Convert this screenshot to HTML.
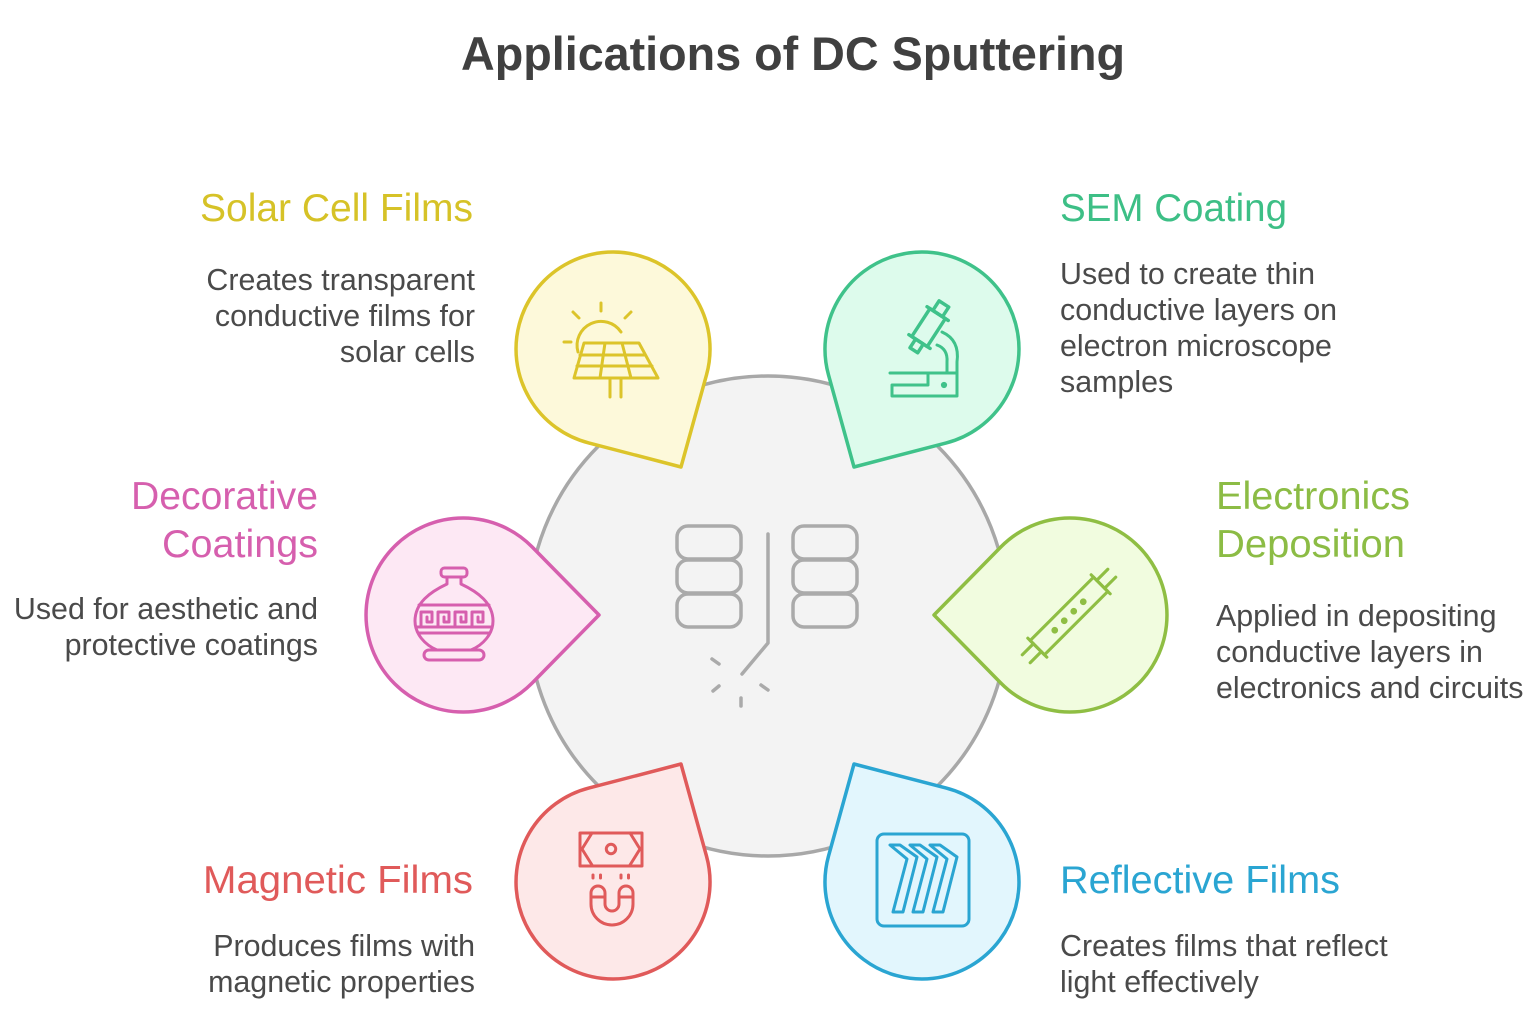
<!DOCTYPE html>
<html>
<head>
<meta charset="utf-8">
<style>
  html,body{margin:0;padding:0;background:#ffffff;}
  svg{display:block;}
  text{font-family:"Liberation Sans", Arial, sans-serif;}
  .lbl{font-size:39px;}
  .body{font-size:30.4px;fill:#4a4a4a;}
</style>
</head>
<body>
<svg width="1534" height="1014" viewBox="0 0 1534 1014" xmlns="http://www.w3.org/2000/svg">
  <rect x="0" y="0" width="1534" height="1014" fill="#ffffff"/>

  <!-- Title -->
  <text x="793" y="70" text-anchor="middle" font-size="47" font-weight="bold" fill="#404040" textLength="664" lengthAdjust="spacingAndGlyphs">Applications of DC Sputtering</text>

  <!-- Central circle -->
  <circle cx="768" cy="616" r="240" fill="#f3f3f3" stroke="#a8a8a8" stroke-width="3.5"/>

  <!-- Central icon -->
  <g fill="none" stroke="#aaaaaa" stroke-width="3.5" stroke-linecap="round" stroke-linejoin="round">
    <rect x="677" y="526" width="64" height="33" rx="11"/>
    <rect x="677" y="560" width="64" height="33" rx="11"/>
    <rect x="677" y="594" width="64" height="33" rx="11"/>
    <rect x="793" y="526" width="64" height="33" rx="11"/>
    <rect x="793" y="560" width="64" height="33" rx="11"/>
    <rect x="793" y="594" width="64" height="33" rx="11"/>
    <path d="M768 534 V643 L742 674"/>
    <path d="M712 659 L719 664"/>
    <path d="M713 691 L719 686"/>
    <path d="M761 685 L768 690"/>
    <path d="M741 698 V706"/>
  </g>

  <!-- Teardrops -->
  <path d="M681 467 L706.5 374.9 A97 97 0 1 0 588.7 442.9 Z" fill="#fdf9da" stroke="#dcc42a" stroke-width="3.5" stroke-linejoin="round"/>
  <path d="M854 467 L946.3 442.9 A97 97 0 1 0 828.5 374.9 Z" fill="#ddfbec" stroke="#3fc28a" stroke-width="3.5" stroke-linejoin="round"/>
  <path d="M599 615 L532.2 547 A97 97 0 1 0 532.2 683 Z" fill="#fde8f4" stroke="#d65fae" stroke-width="3.5" stroke-linejoin="round"/>
  <path d="M934 615 L1000.8 683 A97 97 0 1 0 1000.8 547 Z" fill="#f1fcdf" stroke="#8fbe43" stroke-width="3.5" stroke-linejoin="round"/>
  <path d="M681 764 L588.7 788.1 A97 97 0 1 0 706.5 856.1 Z" fill="#fde8e8" stroke="#e05a5a" stroke-width="3.5" stroke-linejoin="round"/>
  <path d="M854 764 L828.5 856.1 A97 97 0 1 0 946.3 788.1 Z" fill="#e2f6fd" stroke="#2aa5d2" stroke-width="3.5" stroke-linejoin="round"/>

  <!-- Solar icon -->
  <g fill="none" stroke="#dcc42a" stroke-width="3" stroke-linecap="round" stroke-linejoin="round">
    <path d="M578 352 A24 24 0 0 1 621 332"/>
    <path d="M564 342 H571"/>
    <path d="M573 312 L579 318"/>
    <path d="M601 303 V311"/>
    <path d="M631 312 L625 318"/>
    <path d="M584 343 H639 L658 378 H574 Z"/>
    <path d="M580 355 H645"/>
    <path d="M577 366 H652"/>
    <path d="M605 343 L600 378"/>
    <path d="M622 343 L631 378"/>
    <path d="M610 378 V397"/>
    <path d="M621 378 V397"/>
  </g>

  <!-- Microscope icon -->
  <g fill="none" stroke="#3fc28a" stroke-width="3" stroke-linecap="round" stroke-linejoin="round">
    <g transform="translate(927 330) rotate(33) scale(1.15)">
      <rect x="-5" y="-27" width="10" height="10"/>
      <rect x="-8" y="-17" width="16" height="29"/>
      <path d="M-11 -17 H11"/>
      <path d="M-11 12 H11"/>
      <rect x="-4" y="12" width="8" height="9"/>
    </g>
    <path d="M942 332 Q960 340 957 362 V373"/>
    <path d="M937 345 Q948 349 947 362 V373"/>
    <path d="M890 373 H957 V396 H892 V385 H928 V373"/>
    <circle cx="944" cy="385" r="1.6" fill="#3fc28a"/>
  </g>

  <!-- Vase icon -->
  <g fill="none" stroke="#d65fae" stroke-width="3" stroke-linecap="round" stroke-linejoin="round">
    <rect x="441" y="568" width="26" height="9" rx="3.5"/>
    <path d="M447 577 V584 C430 592 415 603 415 621 C415 634 425 645 437 650 H471 C483 645 493 634 493 621 C493 603 478 592 461 584 V577"/>
    <rect x="424" y="650" width="60" height="10" rx="5"/>
    <path d="M419 605 H489"/>
    <path d="M419 633 H489"/>
    <path d="M417 627 H421 V612 H432 V622 H427 V617"/>
    <path d="M421 627 H438 V612 H449 V622 H444 V617"/>
    <path d="M438 627 H455 V612 H466 V622 H461 V617"/>
    <path d="M455 627 H472 V612 H483 V622 H478 V617"/>
    <path d="M472 627 H491"/>
  </g>

  <!-- Electronics tube icon -->
  <g transform="translate(1069 616) rotate(-45) scale(1.12)" fill="none" stroke="#8fbe43" stroke-width="2.8" stroke-linecap="round" stroke-linejoin="round">
    <rect x="-40" y="-9" width="80" height="18"/>
    <path d="M40 -12 V12"/>
    <path d="M-40 -12 V12"/>
    <path d="M40 -5 H54"/>
    <path d="M40 5 H54"/>
    <path d="M-40 -5 H-54"/>
    <path d="M-40 5 H-54"/>
    <circle cx="-18" cy="0" r="1.6" fill="#8fbe43"/>
    <circle cx="-6" cy="0" r="1.6" fill="#8fbe43"/>
    <circle cx="6" cy="0" r="1.6" fill="#8fbe43"/>
    <circle cx="18" cy="0" r="1.6" fill="#8fbe43"/>
  </g>

  <!-- Magnet icon -->
  <g fill="none" stroke="#e05a5a" stroke-width="3" stroke-linecap="round" stroke-linejoin="round">
    <rect x="580" y="833" width="62" height="33"/>
    <path d="M592 833 L582 849 L592 865"/>
    <path d="M630 833 L640 849 L630 865"/>
    <circle cx="611" cy="849" r="4.7"/>
    <path d="M593 875 V878"/>
    <path d="M600.5 875 V878"/>
    <path d="M621 875 V878"/>
    <path d="M628.5 875 V878"/>
    <path d="M591 893 A7 7 0 0 1 605 893 V904 A7 7 0 0 0 619 904 V893 A7 7 0 0 1 633 893 V904 A21 21 0 0 1 591 904 Z"/>
    <path d="M591 897 H605"/>
    <path d="M619 897 H633"/>
  </g>

  <!-- Reflective icon -->
  <g fill="none" stroke="#2aa5d2" stroke-width="3" stroke-linecap="round" stroke-linejoin="round">
    <rect x="877" y="834" width="92" height="92" rx="7"/>
    <path d="M890 845 L900 845 L917 857 L903 912 L893 912 L907 859 Z"/>
    <path d="M910 845 L920 845 L937 857 L923 912 L913 912 L927 859 Z"/>
    <path d="M930 845 L940 845 L957 857 L943 912 L933 912 L947 859 Z"/>
  </g>

  <!-- Solar text -->
  <text class="lbl" x="473" y="221" text-anchor="end" fill="#d6c227" textLength="273" lengthAdjust="spacingAndGlyphs">Solar Cell Films</text>
  <text class="body" x="475" y="290" text-anchor="end">Creates transparent</text>
  <text class="body" x="475" y="326" text-anchor="end">conductive films for</text>
  <text class="body" x="475" y="362" text-anchor="end">solar cells</text>

  <!-- SEM text -->
  <text class="lbl" x="1060" y="221" fill="#3dbf86" textLength="227" lengthAdjust="spacingAndGlyphs">SEM Coating</text>
  <text class="body" x="1060" y="284">Used to create thin</text>
  <text class="body" x="1060" y="320">conductive layers on</text>
  <text class="body" x="1060" y="356">electron microscope</text>
  <text class="body" x="1060" y="392">samples</text>

  <!-- Decorative text -->
  <text class="lbl" x="318" y="509" text-anchor="end" fill="#d65fae" textLength="187" lengthAdjust="spacingAndGlyphs">Decorative</text>
  <text class="lbl" x="318" y="557" text-anchor="end" fill="#d65fae" textLength="156" lengthAdjust="spacingAndGlyphs">Coatings</text>
  <text class="body" x="318" y="619" text-anchor="end">Used for aesthetic and</text>
  <text class="body" x="318" y="655" text-anchor="end">protective coatings</text>

  <!-- Electronics text -->
  <text class="lbl" x="1216" y="509" fill="#8cbc45" textLength="194" lengthAdjust="spacingAndGlyphs">Electronics</text>
  <text class="lbl" x="1216" y="557" fill="#8cbc45" textLength="189" lengthAdjust="spacingAndGlyphs">Deposition</text>
  <text class="body" x="1216" y="626">Applied in depositing</text>
  <text class="body" x="1216" y="662">conductive layers in</text>
  <text class="body" x="1216" y="698">electronics and circuits</text>

  <!-- Magnetic text -->
  <text class="lbl" x="473" y="893" text-anchor="end" fill="#e05a5a" textLength="270" lengthAdjust="spacingAndGlyphs">Magnetic Films</text>
  <text class="body" x="475" y="956" text-anchor="end">Produces films with</text>
  <text class="body" x="475" y="992" text-anchor="end">magnetic properties</text>

  <!-- Reflective text -->
  <text class="lbl" x="1060" y="893" fill="#2aa5d2" textLength="280" lengthAdjust="spacingAndGlyphs">Reflective Films</text>
  <text class="body" x="1060" y="956">Creates films that reflect</text>
  <text class="body" x="1060" y="992">light effectively</text>
</svg>
</body>
</html>
